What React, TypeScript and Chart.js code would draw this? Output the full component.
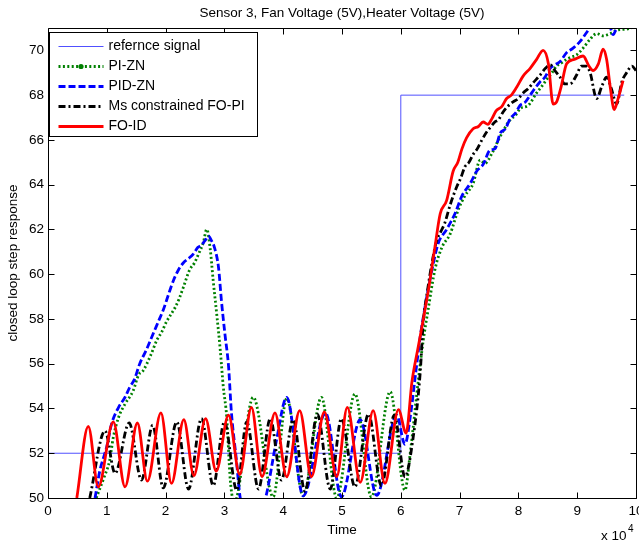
import React, { useEffect, useRef } from 'react';
import { Chart, registerables } from 'chart.js';

Chart.register(...registerables);

const W = 639;
const H = 544;

const CHART_TITLE = 'Sensor 3, Fan Voltage (5V),Heater Voltage (5V)';
const X_LABEL = 'Time';
const Y_LABEL = 'closed loop step response';
const X_EXP_BASE = 'x 10';
const X_EXP_POW = '4';
const X_TICKS = [0, 1, 2, 3, 4, 5, 6, 7, 8, 9, 10];
const Y_TICKS = [50, 52, 54, 56, 58, 60, 62, 64, 66, 68, 70];
const X_MIN = 0;
const X_MAX = 10;
const Y_MIN = 50;
const Y_MAX = 71;

const SERIES_NAMES = ['refernce signal', 'PI-ZN', 'PID-ZN', 'Ms constrained FO-PI', 'FO-ID'];

// reference signal
const refX = [0, 6, 6, 9.8];
const refY = [52, 52, 68, 68];

// PI-ZN (green dotted)
const greenX = [0.82, 0.95, 1.05, 1.11, 1.20, 1.31, 1.45, 1.54, 1.62, 1.75, 1.85, 1.93, 2.02, 2.09, 2.16, 2.23, 2.30, 2.41, 2.49, 2.56, 2.64, 2.70, 2.76, 2.81, 2.87, 2.93, 2.98, 3.04, 3.10, 3.17, 3.49, 3.83, 4.06, 4.34, 4.65, 4.91, 5.22, 5.50, 5.82, 6.07, 6.16, 6.30, 6.38, 6.47, 6.58, 6.70, 6.84, 6.98, 7.09, 7.23, 7.35, 7.43, 7.55, 7.66, 7.74, 7.86, 7.95, 8.03, 8.17, 8.31, 8.40, 8.48, 8.57, 8.65, 8.74, 8.82, 8.90, 8.99, 9.10, 9.22, 9.33, 9.44, 9.56, 9.67, 9.84, 9.92];
const greenY = [50.0, 50.9, 51.7, 52.7, 53.6, 54.2, 54.8, 55.5, 55.7, 56.4, 57.05, 57.4, 57.9, 58.2, 58.5, 58.9, 59.4, 60.2, 60.5, 60.9, 61.4, 62.0, 61.1, 59.7, 58.2, 56.6, 55.0, 53.6, 50.8, 49.8, 54.5, 50.05, 54.45, 50.1, 54.5, 50.0, 54.65, 50.05, 54.75, 50.35, 52.0, 55.3, 57.0, 58.5, 60.2, 61.2, 61.8, 62.9, 63.5, 64.05, 65.1, 64.95, 65.4, 66.0, 66.4, 66.9, 67.1, 67.4, 67.55, 68.1, 68.4, 68.7, 69.0, 69.3, 69.45, 69.6, 69.7, 69.8, 70.1, 70.5, 70.75, 70.65, 70.75, 70.9, 70.95, 71.0];

// PID-ZN (blue dashed)
const blueX = [0.80, 0.88, 1.00, 1.08, 1.20, 1.31, 1.39, 1.47, 1.56, 1.67, 1.79, 1.88, 1.96, 2.05, 2.13, 2.22, 2.30, 2.39, 2.47, 2.55, 2.61, 2.67, 2.73, 2.78, 2.83, 2.90, 2.95, 3.01, 3.07, 3.12, 3.20, 3.27, 3.48, 3.70, 3.88, 4.06, 4.34, 4.72, 4.99, 5.31, 5.59, 5.93, 6.07, 6.17, 6.24, 6.33, 6.41, 6.53, 6.64, 6.78, 6.92, 7.04, 7.18, 7.29, 7.40, 7.52, 7.60, 7.69, 7.78, 7.86, 7.95, 8.03, 8.12, 8.20, 8.28, 8.37, 8.45, 8.54, 8.62, 8.71, 8.82, 8.93, 9.05, 9.16, 9.25, 9.40, 9.55, 9.61, 9.67, 9.75];
const blueY = [50.0, 51.2, 52.3, 53.3, 54.05, 54.5, 54.95, 55.3, 56.0, 56.6, 57.35, 57.9, 58.4, 59.1, 59.7, 60.2, 60.5, 60.7, 60.9, 61.2, 61.3, 61.5, 61.7, 61.5, 61.2, 60.3, 58.8, 57.3, 55.9, 53.8, 51.8, 50.0, 48.8, 50.0, 52.5, 54.5, 50.1, 53.8, 50.05, 53.5, 50.12, 53.7, 52.4, 53.8, 55.3, 57.2, 58.5, 60.2, 61.4, 62.0, 62.7, 63.5, 64.05, 64.6, 64.9, 65.55, 65.6, 66.3, 66.5, 66.95, 67.2, 67.55, 67.7, 68.0, 68.3, 68.6, 68.8, 69.2, 69.35, 69.5, 69.9, 70.1, 70.4, 70.8, 71.1, 71.2, 71.1, 70.7, 71.0, 71.4];

// Ms constrained FO-PI (black dash-dot)
const blackX = [0.71, 0.97, 1.14, 1.38, 1.59, 1.78, 1.96, 2.19, 2.39, 2.61, 2.81, 3.00, 3.21, 3.38, 3.58, 3.78, 3.97, 4.17, 4.37, 4.58, 4.80, 4.99, 5.22, 5.45, 5.67, 5.89, 6.07, 6.21, 6.33, 6.38, 6.45, 6.53, 6.61, 6.68, 6.75, 6.84, 6.95, 7.02, 7.09, 7.16, 7.23, 7.30, 7.38, 7.46, 7.52, 7.60, 7.66, 7.74, 7.82, 7.91, 8.00, 8.08, 8.17, 8.25, 8.37, 8.46, 8.54, 8.62, 8.71, 8.79, 8.88, 8.99, 9.07, 9.15, 9.22, 9.33, 9.42, 9.50, 9.58, 9.67, 9.76, 9.84, 9.93, 10.0];
const blackY = [50.0, 53.0, 51.1, 53.35, 50.8, 53.25, 50.45, 53.4, 50.4, 53.55, 50.55, 53.4, 50.35, 53.4, 50.4, 53.55, 50.8, 53.5, 50.3, 53.75, 50.4, 53.55, 50.5, 53.75, 50.55, 53.7, 50.95, 52.7, 55.6, 57.8, 59.2, 60.5, 61.5, 61.9, 62.3, 63.1, 63.9, 64.3, 64.8, 65.0, 65.35, 65.6, 66.0, 66.35, 66.55, 66.8, 66.9, 67.25, 67.5, 67.7, 67.85, 68.1, 68.3, 68.55, 68.9, 69.2, 69.35, 69.1, 68.8, 68.5, 68.5, 68.9, 69.3, 69.3, 69.0, 67.85, 68.4, 68.8, 68.3, 67.6, 68.6, 69.0, 69.3, 69.1];

// FO-ID (red solid)
const redX = [0.49, 0.685, 0.855, 1.11, 1.31, 1.52, 1.69, 1.92, 2.10, 2.31, 2.48, 2.68, 2.86, 3.07, 3.26, 3.46, 3.64, 3.86, 4.06, 4.28, 4.48, 4.70, 4.91, 5.09, 5.31, 5.53, 5.73, 5.96, 6.09, 6.19, 6.30, 6.39, 6.47, 6.58, 6.67, 6.78, 6.89, 6.97, 7.04, 7.12, 7.23, 7.32, 7.40, 7.48, 7.55, 7.62, 7.72, 7.80, 7.88, 7.97, 8.08, 8.20, 8.31, 8.42, 8.51, 8.59, 8.65, 8.72, 8.82, 8.95, 9.10, 9.20, 9.27, 9.36, 9.44, 9.50, 9.56, 9.63, 9.69, 9.78];
const redY = [50.0, 53.2, 50.5, 53.4, 50.5, 53.35, 50.75, 53.8, 50.65, 53.5, 51.0, 53.55, 51.2, 53.7, 51.05, 54.05, 50.95, 53.8, 50.95, 53.9, 50.95, 53.85, 50.95, 54.05, 50.7, 53.9, 50.65, 53.95, 52.9, 55.2, 56.8, 58.1, 59.3, 61.2, 62.7, 63.3, 64.6, 65.0, 65.6, 66.1, 66.5, 66.6, 66.8, 66.7, 66.95, 67.3, 67.5, 67.85, 68.0, 68.35, 68.85, 69.2, 69.6, 70.0, 69.4, 67.6, 67.7, 68.3, 69.4, 69.6, 69.75, 69.3, 69.1, 69.4, 70.05, 69.6, 68.4, 67.35, 67.8, 68.65];

const FONT = "'Liberation Sans', Arial, Helvetica, sans-serif";

const STYLES = [
  { color: 'rgb(80,80,255)', width: 1, dash: [] as number[], smooth: false, dot: false },
  { color: 'rgb(0,128,0)', width: 2.8, dash: [2, 2.4], smooth: true, dot: true },
  { color: 'rgb(0,0,255)', width: 2.8, dash: [7, 3], smooth: true, dot: false },
  { color: 'rgb(0,0,0)', width: 2.8, dash: [7, 3, 2, 3], smooth: true, dot: false },
  { color: 'rgb(255,0,0)', width: 2.8, dash: [], smooth: true, dot: false },
];

const SERIES_X = [refX, greenX, blueX, blackX, redX];
const SERIES_Y = [refY, greenY, blueY, blackY, redY];
const DRAW_ORDER = [4, 3, 2, 1, 0];

const decoPlugin = {
  id: 'deco',
  beforeDraw(chart: any) {
    const ctx = chart.ctx;
    ctx.save();
    ctx.fillStyle = '#ffffff';
    ctx.fillRect(0, 0, chart.width, chart.height);
    ctx.restore();
  },
  afterDatasetsDraw(chart: any) {
    const ctx = chart.ctx;
    const { left, right, top, bottom } = chart.chartArea;
    const xs = chart.scales.x;
    const ys = chart.scales.y;
    const L = Math.round(left) + 0.5;
    const R = Math.round(right) + 0.5;
    const T = Math.round(top) + 0.5;
    const B = Math.round(bottom) + 0.5;
    ctx.save();
    ctx.strokeStyle = '#000';
    ctx.lineWidth = 1;
    ctx.setLineDash([]);
    ctx.beginPath();
    ctx.rect(L, T, R - L, B - T);
    ctx.stroke();
    const tl = 6;
    ctx.beginPath();
    X_TICKS.forEach((v) => {
      const px = Math.round(xs.getPixelForValue(v)) + 0.5;
      ctx.moveTo(px, B);
      ctx.lineTo(px, B - tl);
      ctx.moveTo(px, T);
      ctx.lineTo(px, T + tl);
    });
    Y_TICKS.forEach((v) => {
      const py = Math.round(ys.getPixelForValue(v)) + 0.5;
      ctx.moveTo(L, py);
      ctx.lineTo(L + tl, py);
      ctx.moveTo(R, py);
      ctx.lineTo(R - tl, py);
    });
    ctx.stroke();

    ctx.fillStyle = '#000';
    ctx.font = `13.5px ${FONT}`;
    ctx.textAlign = 'center';
    ctx.textBaseline = 'middle';
    X_TICKS.forEach((v) => {
      ctx.fillText(String(v), xs.getPixelForValue(v), bottom + 13);
    });
    ctx.textAlign = 'right';
    Y_TICKS.forEach((v) => {
      ctx.fillText(String(v), left - 4, ys.getPixelForValue(v));
    });

    // axis titles
    ctx.textAlign = 'center';
    ctx.fillText(X_LABEL, (left + right) / 2, bottom + 32);
    ctx.save();
    ctx.translate(13, (top + bottom) / 2);
    ctx.rotate(-Math.PI / 2);
    ctx.fillText(Y_LABEL, 0, 0);
    ctx.restore();

    // exponent
    ctx.textAlign = 'left';
    ctx.textBaseline = 'alphabetic';
    ctx.fillText(X_EXP_BASE, right - 35, bottom + 42);
    ctx.font = `10px ${FONT}`;
    ctx.fillText(X_EXP_POW, right - 8, bottom + 34);

    // title
    ctx.font = `13.5px ${FONT}`;
    ctx.textAlign = 'center';
    ctx.textBaseline = 'middle';
    ctx.fillText(CHART_TITLE, (left + right) / 2, 13);
    ctx.restore();
  },
  afterDraw(chart: any) {
    const ctx = chart.ctx;
    const { left, top } = chart.chartArea;
    ctx.save();
    const bx = Math.round(left) + 1.5;
    const by = Math.round(top) + 4.5;
    const bw = 208;
    const bh = 104;
    ctx.fillStyle = '#fff';
    ctx.fillRect(bx, by, bw, bh);
    ctx.strokeStyle = '#000';
    ctx.lineWidth = 1;
    ctx.setLineDash([]);
    ctx.strokeRect(bx, by, bw, bh);
    ctx.font = `14px ${FONT}`;
    ctx.textBaseline = 'middle';
    ctx.textAlign = 'left';
    SERIES_NAMES.forEach((name, i) => {
      const st = STYLES[i];
      const yy = Math.round(by + 13 + i * 20) + 0.5;
      const x0 = bx + 9;
      const x1 = bx + 54;
      ctx.strokeStyle = st.color;
      ctx.lineWidth = st.width;
      ctx.setLineDash(st.dash);
      ctx.beginPath();
      ctx.moveTo(x0, yy);
      ctx.lineTo(x1, yy);
      ctx.stroke();
      ctx.setLineDash([]);
      if (st.dot) {
        ctx.fillStyle = st.color;
        ctx.beginPath();
        ctx.arc((x0 + x1) / 2, yy, 2.6, 0, Math.PI * 2);
        ctx.fill();
      }
      ctx.fillStyle = '#000';
      ctx.fillText(name, bx + 59, yy);
    });
    ctx.restore();
  },
};

export default function App() {
  const canvasRef = useRef<HTMLCanvasElement | null>(null);

  useEffect(() => {
    const canvas = canvasRef.current;
    if (!canvas) return;
    const datasets = DRAW_ORDER.map((idx, k) => {
      const st = STYLES[idx];
      const xsArr = SERIES_X[idx];
      const ysArr = SERIES_Y[idx];
      return {
        label: SERIES_NAMES[idx],
        data: xsArr.map((v, i) => ({ x: v, y: ysArr[i] })),
        borderColor: st.color,
        backgroundColor: st.color,
        borderWidth: st.width,
        borderDash: st.dash,
        pointRadius: 0,
        fill: false,
        tension: 0,
        cubicInterpolationMode: st.smooth ? 'monotone' : 'default',
        clip: 0,
        order: k,
      };
    });
    const chart = new Chart(canvas, {
      type: 'line',
      data: { datasets: datasets as any },
      options: {
        responsive: false,
        animation: false,
        devicePixelRatio: 1,
        layout: { padding: { left: 48, right: W - 636, top: 28, bottom: H - 498 } },
        scales: {
          x: { type: 'linear', min: X_MIN, max: X_MAX, display: false },
          y: { type: 'linear', min: Y_MIN, max: Y_MAX, display: false },
        },
        plugins: {
          legend: { display: false },
          tooltip: { enabled: false },
          title: { display: false },
        },
        events: [],
      },
      plugins: [decoPlugin],
    } as any);
    return () => chart.destroy();
  }, []);

  return (
    <div style={{ position: 'absolute', left: 0, top: 0, width: W, height: H, background: '#fff' }}>
      <canvas ref={canvasRef} width={W} height={H} style={{ display: 'block', width: W, height: H }} />
    </div>
  );
}
